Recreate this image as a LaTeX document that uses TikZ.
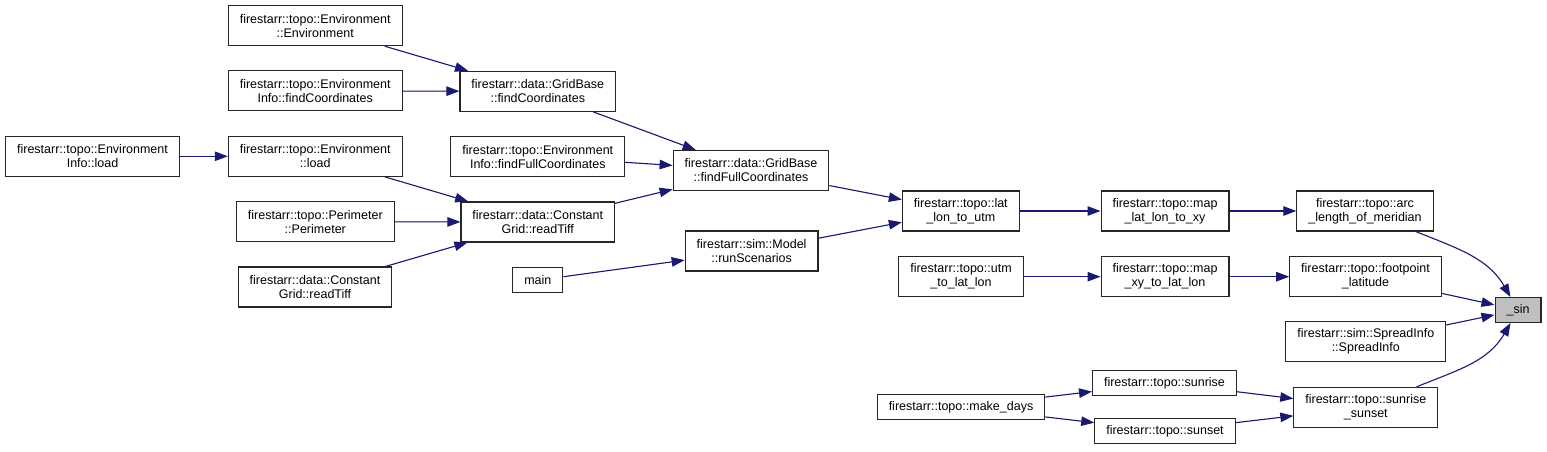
\documentclass[tikz,border=0pt]{standalone}
\usepackage{fontspec}
\setmainfont{Liberation Sans}
\usepackage{tikz}
\usetikzlibrary{arrows.meta}
\definecolor{edgeblue}{RGB}{25,25,112}
\definecolor{hitgrey}{RGB}{191,191,191}
\tikzset{
  callarrow/.style={-{Triangle[length=13pt, width=9.5pt]}, line width=1.1pt, draw=edgeblue, fill=edgeblue},
  fnbox/.style={draw=black!85, line width=1.1pt, fill=white, inner xsep=11.5pt, inner ysep=3pt, minimum height=25pt, align=center},
  fnbox2/.style={fnbox, minimum height=40pt},
  hitbox/.style={fnbox, fill=hitgrey}
}

\begin{document}
\begin{tikzpicture}[x=1pt, y=-1pt, every node/.style={font=\fontsize{12.5}{14}\selectfont}]
  \useasboundingbox (0,0) rectangle (1547,451);

  % left columns
  \node[fnbox2] (envctor) at (315.2,25.7) {firestarr::topo::Environment\\::Environment};
  \node[fnbox2] (envinfofind) at (315.2,90.9) {firestarr::topo::Environment\\Info::findCoordinates};
  \node[fnbox2] (envinfoload) at (92.5,156.3) {firestarr::topo::Environment\\Info::load};
  \node[fnbox2] (envload) at (315.2,156.3) {firestarr::topo::Environment\\::load};
  \node[fnbox2] (perim) at (315.3,221.8) {firestarr::topo::Perimeter\\::Perimeter};
  \node[fnbox2] (cgreadl) at (315,287) {firestarr::data::Constant\\Grid::readTiff};

  \node[fnbox2] (gbfind) at (537.8,91.3) {firestarr::data::GridBase\\::findCoordinates};
  \node[fnbox2] (envinfofull) at (537.8,156.7) {firestarr::topo::Environment\\Info::findFullCoordinates};
  \node[fnbox2] (cgread) at (537.8,222) {firestarr::data::Constant\\Grid::readTiff};
  \node[fnbox] (main) at (537.8,280.2) {main};

  \node[fnbox2] (gbfull) at (751,170.4) {firestarr::data::GridBase\\::findFullCoordinates};
  \node[fnbox2] (runsc) at (751.6,251) {firestarr::sim::Model\\::runScenarios};

  % right part
  \node[fnbox2] (latutm) at (960.8,211) {firestarr::topo::lat\\\_lon\_to\_utm};
  \node[fnbox2] (utmlat) at (961,276.7) {firestarr::topo::utm\\\_to\_lat\_lon};
  \node[fnbox] (makedays) at (961,407) {firestarr::topo::make\_days};

  \node[fnbox2] (maplatxy) at (1165,211) {firestarr::topo::map\\\_lat\_lon\_to\_xy};
  \node[fnbox2] (mapxylat) at (1165,276.7) {firestarr::topo::map\\\_xy\_to\_lat\_lon};
  \node[fnbox] (sunrise) at (1164.5,383) {firestarr::topo::sunrise};
  \node[fnbox] (sunset) at (1165,431) {firestarr::topo::sunset};

  \node[fnbox2] (arclen) at (1365,211) {firestarr::topo::arc\\\_length\_of\_meridian};
  \node[fnbox2] (footlat) at (1365.5,276.7) {firestarr::topo::footpoint\\\_latitude};
  \node[fnbox2] (spread) at (1365.8,341.7) {firestarr::sim::SpreadInfo\\::SpreadInfo};
  \node[fnbox2] (sunss) at (1365.8,407.3) {firestarr::topo::sunrise\\\_sunset};

  \node[hitbox] (sin) at (1518,310) {\_sin};

  % calls
  \draw[callarrow] (envinfoload) -- (envload);
  \draw[callarrow] (envctor) -- (gbfind);
  \draw[callarrow] (envinfofind) -- (gbfind);
  \draw[callarrow] (envload) -- (cgread);
  \draw[callarrow] (perim) -- (cgread);
  \draw[callarrow] (cgreadl) -- (cgread);
  \draw[callarrow] (gbfind) -- (gbfull);
  \draw[callarrow] (envinfofull) -- (gbfull);
  \draw[callarrow] (cgread) -- (gbfull);
  \draw[callarrow] (main) -- (runsc);
  \draw[callarrow] (gbfull) -- (latutm);
  \draw[callarrow] (runsc) -- (latutm);
  \draw[callarrow] (latutm) -- (maplatxy);
  \draw[callarrow] (maplatxy) -- (arclen);
  \draw[callarrow] (utmlat) -- (mapxylat);
  \draw[callarrow] (mapxylat) -- (footlat);
  \draw[callarrow] (makedays) -- (sunrise);
  \draw[callarrow] (makedays) -- (sunset);
  \draw[callarrow] (sunrise) -- (sunss);
  \draw[callarrow] (sunset) -- (sunss);
  \draw[callarrow, fill=none] (arclen) to[out=-22, in=120] (sin);
  \draw[callarrow] (footlat) -- (sin);
  \draw[callarrow] (spread) -- (sin);
  \draw[callarrow, fill=none] (sunss) to[out=22, in=-120] (sin);
\end{tikzpicture}
\end{document}
